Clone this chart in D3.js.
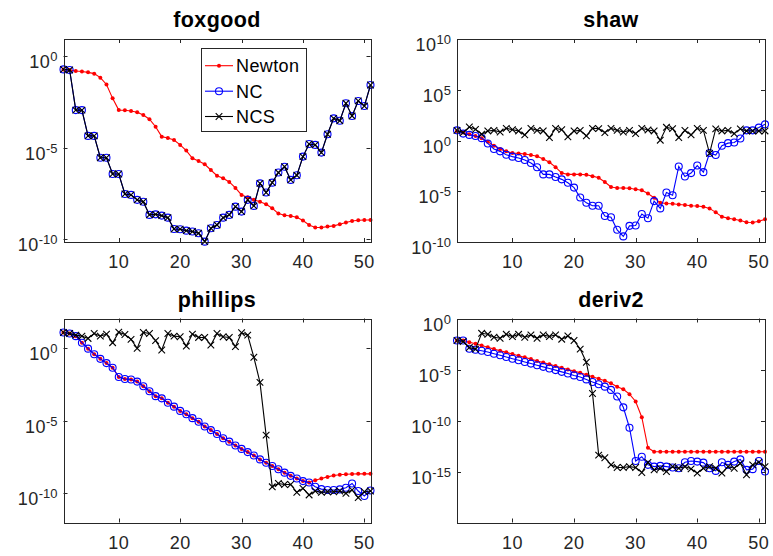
<!DOCTYPE html>
<html>
<head>
<meta charset="utf-8">
<script src="https://cdn.jsdelivr.net/npm/d3@7/dist/d3.min.js"></script>
<style>
  body { margin: 0; background: #fff; }
  svg { display: block; }
</style>
</head>
<body>
<script>
// iteration index on the x axis
const iterations = d3.range(1, 52);
const xTicks = [10, 20, 30, 40, 50];

// all series are log10 of the plotted values
const foxgoodNewton = [-0.73, -0.76, -0.82, -0.84, -0.89, -0.96, -1.18, -1.55, -2.31, -2.95,
    -2.96, -3.0, -3.07, -3.22, -3.45, -3.86, -4.4, -4.47, -4.58, -4.85,
    -5.16, -5.58, -5.73, -5.91, -6.22, -6.53, -6.67, -6.87, -7.2, -7.58,
    -7.71, -7.85, -7.95, -8.09, -8.31, -8.6, -8.69, -8.73, -8.8, -8.98,
    -9.22, -9.36, -9.36, -9.31, -9.27, -9.18, -9.09, -9.0, -8.96, -8.95, -8.95];
const foxgoodNC = [-0.73, -0.76, -2.95, -2.95, -4.36, -4.36, -5.55, -5.55, -6.44, -6.44,
    -7.53, -7.58, -7.85, -7.95, -8.67, -8.64, -8.71, -8.82, -9.44, -9.45,
    -9.53, -9.58, -9.67, -10.13, -9.4, -9.22, -8.82, -8.67, -8.22, -8.49,
    -7.85, -8.18, -6.95, -7.45, -6.91, -6.36, -6.04, -6.76, -6.51, -5.49,
    -4.8, -4.85, -5.27, -4.27, -3.4, -3.53, -2.58, -3.27, -2.45, -2.73, -1.58];
const foxgoodNCS = [-0.73, -0.76, -2.95, -2.95, -4.36, -4.36, -5.55, -5.55, -6.44, -6.44,
    -7.53, -7.58, -7.85, -7.95, -8.67, -8.64, -8.71, -8.82, -9.44, -9.45,
    -9.53, -9.58, -9.67, -10.13, -9.4, -9.22, -8.82, -8.67, -8.22, -8.49,
    -7.85, -8.18, -6.95, -7.45, -6.91, -6.36, -6.04, -6.76, -6.51, -5.49,
    -4.8, -4.85, -5.27, -4.27, -3.4, -3.53, -2.58, -3.27, -2.45, -2.73, -1.58];

const shawNewton = [0.94, 0.78, 0.62, 0.45, 0.23, -0.13, -0.52, -0.84, -1.07, -1.23,
    -1.27, -1.33, -1.43, -1.56, -1.82, -2.14, -2.63, -3.21, -3.34, -3.34,
    -3.34, -3.38, -3.51, -3.67, -4.09, -4.58, -4.68, -4.68, -4.71, -4.81,
    -4.9, -5.23, -5.65, -6.14, -6.2, -6.23, -6.3, -6.36, -6.43, -6.46,
    -6.53, -6.69, -7.08, -7.5, -7.66, -7.76, -7.89, -8.05, -8.08, -7.95, -7.76];
const shawNC = [1.0, 0.68, 0.55, 0.45, 0.23, -0.29, -0.84, -1.07, -1.4, -1.59,
    -1.72, -1.92, -2.21, -2.63, -3.34, -3.34, -3.6, -3.83, -4.16, -4.64,
    -5.62, -6.14, -6.43, -6.43, -7.44, -7.56, -8.8, -9.45, -8.41, -8.38,
    -7.24, -7.66, -5.97, -6.69, -5.13, -5.39, -2.56, -3.54, -3.21, -2.47,
    -3.12, -1.23, -1.43, -0.52, -0.26, -0.19, 0.19, 1.0, 1.0, 1.27, 1.59];
const shawNCS = [1.0, 0.78, 1.33, 1.1, 0.62, 0.94, 1.0, 0.84, 1.2, 1.07,
    0.94, 0.55, 1.2, 1.0, 0.94, 0.29, 1.2, 1.07, 0.36, 0.94,
    1.0, 0.45, 1.2, 1.17, 0.78, 1.2, 1.0, 0.84, 1.0, 0.68,
    1.2, 1.04, 0.94, 0.03, 1.3, 1.17, 0.29, 1.0, 0.55, 1.2,
    1.0, -1.27, 1.14, 0.94, 1.0, 0.68, 1.14, 0.94, 0.94, 0.94, 0.94];

const phillipsNewton = [1.04, 0.97, 0.79, 0.34, -0.07, -0.45, -0.77, -1.06, -1.38, -2.01,
    -2.15, -2.19, -2.33, -2.65, -2.99, -3.33, -3.48, -3.78, -4.05, -4.34,
    -4.57, -4.84, -5.09, -5.41, -5.66, -5.93, -6.22, -6.45, -6.72, -6.95,
    -7.17, -7.4, -7.67, -7.9, -8.12, -8.35, -8.58, -8.8, -8.98, -9.16,
    -9.25, -9.1, -8.98, -8.87, -8.78, -8.72, -8.69, -8.67, -8.66, -8.66, -8.66];
const phillipsNC = [1.04, 0.97, 0.79, 0.34, -0.07, -0.45, -0.77, -1.06, -1.38, -2.01,
    -2.15, -2.19, -2.33, -2.65, -2.99, -3.33, -3.48, -3.78, -4.05, -4.34,
    -4.57, -4.84, -5.09, -5.41, -5.66, -5.93, -6.22, -6.45, -6.72, -6.95,
    -7.17, -7.4, -7.67, -7.9, -8.12, -8.35, -8.58, -8.8, -8.98, -9.16,
    -9.25, -9.55, -9.71, -9.77, -9.77, -9.73, -9.62, -9.32, -9.84, -10.18, -9.8];
const phillipsNCS = [1.04, 0.97, 0.86, 0.79, 0.63, 0.97, 0.79, 0.93, 0.34, 1.06,
    0.9, 0.57, -0.05, 1.04, 0.97, 0.48, -0.16, 0.97, 0.79, 0.75,
    0.11, 0.93, 0.7, 0.7, 0.18, 0.97, 0.75, 0.7, 0.07, 1.02,
    0.86, -0.66, -2.38, -6.0, -9.55, -9.32, -9.39, -9.39, -9.93, -9.66,
    -10.11, -9.84, -9.93, -9.89, -9.89, -9.84, -10.0, -9.77, -10.29, -9.89, -9.84];

const deriv2Newton = [-2.16, -2.16, -2.32, -2.48, -2.65, -2.81, -3.0, -3.16, -3.32, -3.48,
    -3.65, -3.81, -3.97, -4.16, -4.32, -4.48, -4.65, -4.84, -5.0, -5.16,
    -5.32, -5.52, -5.71, -5.9, -6.1, -6.35, -6.68, -6.94, -7.42, -8.13,
    -9.68, -12.68, -13.06, -13.06, -13.06, -13.06, -13.06, -13.06, -13.06, -13.06,
    -13.06, -13.06, -13.06, -13.06, -13.06, -13.06, -13.06, -13.06, -13.06, -13.06, -13.06];
const deriv2NC = [-2.16, -2.16, -2.97, -3.06, -3.16, -3.29, -3.45, -3.61, -3.77, -3.94,
    -4.1, -4.26, -4.42, -4.58, -4.74, -4.9, -5.06, -5.23, -5.39, -5.58,
    -5.74, -5.97, -6.23, -6.45, -6.68, -7.0, -7.65, -8.71, -10.71, -13.97,
    -13.55, -14.35, -14.52, -14.45, -14.52, -14.61, -14.68, -14.1, -13.97, -14.03,
    -14.13, -14.68, -14.94, -14.1, -14.35, -14.03, -13.81, -14.84, -14.77, -13.97, -15.0];
const deriv2NCS = [-2.16, -2.26, -2.84, -3.0, -1.45, -1.55, -1.84, -1.94, -1.55, -1.77,
    -1.55, -1.84, -1.61, -1.94, -1.61, -1.77, -1.61, -2.03, -1.71, -2.16,
    -3.0, -4.29, -7.35, -13.39, -13.65, -14.35, -14.61, -14.61, -14.52, -14.61,
    -15.1, -14.1, -14.84, -14.68, -15.0, -14.52, -14.68, -14.52, -14.74, -15.16,
    -14.68, -14.52, -14.68, -15.16, -14.52, -14.68, -14.19, -15.32, -14.35, -14.1, -14.52];

const seriesNames = ['Newton', 'NC', 'NCS'];
const seriesColors = ['#ff0000', '#0000ff', '#000000'];

// y limits and ticks, as powers of ten
const foxgoodYLim = [-10.15, 0.93], foxgoodYTicks = [0, -5, -10];
const shawYLim = [-10, 10], shawYTicks = [10, 5, 0, -5, -10];
const phillipsYLim = [-12, 2], phillipsYTicks = [0, -5, -10];
const deriv2YLim = [-20, 0], deriv2YTicks = [0, -5, -10, -15];

const W = 773, H = 556;
const FONT = '"Liberation Sans", Arial, Helvetica, sans-serif';
const AXIS_COLOR = '#262626';

const panels = [
    { title: 'foxgood', series: [foxgoodNewton, foxgoodNC, foxgoodNCS], yLim: foxgoodYLim, yTicks: foxgoodYTicks,
      left: 63.5, top: 39, width: 307, height: 203, legend: true },
    { title: 'shaw', series: [shawNewton, shawNC, shawNCS], yLim: shawYLim, yTicks: shawYTicks,
      left: 457, top: 39, width: 308, height: 203 },
    { title: 'phillips', series: [phillipsNewton, phillipsNC, phillipsNCS], yLim: phillipsYLim, yTicks: phillipsYTicks,
      left: 63.5, top: 318.5, width: 307, height: 204 },
    { title: 'deriv2', series: [deriv2Newton, deriv2NC, deriv2NCS], yLim: deriv2YLim, yTicks: deriv2YTicks,
      left: 457, top: 318.5, width: 308, height: 204 }
];

const svg = d3.select('body')
    .append('svg')
    .attr('width', W)
    .attr('height', H)
    .style('font-family', FONT);

svg.append('rect')
    .attr('width', W)
    .attr('height', H)
    .attr('fill', '#fff');

// marker drawers: '.' for Newton, 'o' for NC, 'x' for NCS
function drawMarkers(sel, kind, color) {
    if (kind === 0) {
        sel.append('circle').attr('r', 2).attr('fill', color);
    } else if (kind === 1) {
        sel.append('circle').attr('r', 3.5).attr('fill', 'none')
            .attr('stroke', color).attr('stroke-width', 1.1);
    } else {
        sel.append('path').attr('d', 'M-3.3,-3.3L3.3,3.3M-3.3,3.3L3.3,-3.3')
            .attr('fill', 'none').attr('stroke', color).attr('stroke-width', 1.1);
    }
}

function drawPanel(p) {
    const x = d3.scaleLinear().domain([1, 51]).range([p.left, p.left + p.width]);
    const y = d3.scaleLog()
        .domain([Math.pow(10, p.yLim[0]), Math.pow(10, p.yLim[1])])
        .range([p.top + p.height, p.top]);

    const g = svg.append('g').attr('class', 'panel');
    const bottom = p.top + p.height, right = p.left + p.width;
    const tickLen = 4;

    // ticks on all four sides (MATLAB box style, pointing inward)
    const ticks = g.append('g').attr('stroke', AXIS_COLOR).attr('stroke-width', 1);
    xTicks.forEach(t => {
        const xp = Math.round(x(t)) + 0.5;
        ticks.append('line').attr('x1', xp).attr('x2', xp).attr('y1', bottom).attr('y2', bottom - tickLen);
        ticks.append('line').attr('x1', xp).attr('x2', xp).attr('y1', p.top).attr('y2', p.top + tickLen);
    });
    p.yTicks.forEach(e => {
        const yp = Math.round(y(Math.pow(10, e))) + 0.5;
        ticks.append('line').attr('x1', p.left).attr('x2', p.left + tickLen).attr('y1', yp).attr('y2', yp);
        ticks.append('line').attr('x1', right).attr('x2', right - tickLen).attr('y1', yp).attr('y2', yp);
    });

    // x tick labels
    g.append('g').selectAll('text')
        .data(xTicks)
        .join('text')
        .attr('x', d => x(d))
        .attr('y', bottom + 26)
        .attr('text-anchor', 'middle')
        .attr('font-size', 18)
        .attr('letter-spacing', 0.5)
        .attr('fill', AXIS_COLOR)
        .text(d => d);

    // y tick labels, 10 with a superscript exponent
    const yl = g.append('g').selectAll('text')
        .data(p.yTicks)
        .join('text')
        .attr('x', p.left - 6)
        .attr('y', d => y(Math.pow(10, d)) + 12)
        .attr('text-anchor', 'end')
        .attr('fill', AXIS_COLOR);
    yl.append('tspan').attr('font-size', 18).attr('letter-spacing', 0.5).text('10');
    yl.append('tspan').attr('font-size', 13).attr('dy', -7).text(d => String(d));

    // title
    g.append('text')
        .attr('x', p.left + p.width / 2)
        .attr('y', p.top - 12)
        .attr('text-anchor', 'middle')
        .attr('font-size', 21.5)
        .attr('font-weight', 'bold')
        .attr('letter-spacing', 0.4)
        .attr('fill', '#000')
        .text(p.title);

    // series: lines then markers
    p.series.forEach((vals, k) => {
        const pts = iterations.map((it, i) => ({ it: it, v: Math.pow(10, vals[i]) }));
        const line = d3.line().x(d => x(d.it)).y(d => y(d.v));
        g.append('path')
            .datum(pts)
            .attr('d', line)
            .attr('fill', 'none')
            .attr('stroke', seriesColors[k])
            .attr('stroke-width', 1.1);
        const m = g.append('g').selectAll('g')
            .data(pts)
            .join('g')
            .attr('transform', d => `translate(${x(d.it)},${y(d.v)})`);
        drawMarkers(m, k, seriesColors[k]);
    });

    // axes box
    g.append('rect')
        .attr('x', Math.round(p.left) + 0.5)
        .attr('y', Math.round(p.top) + 0.5)
        .attr('width', Math.round(p.width))
        .attr('height', Math.round(p.height))
        .attr('fill', 'none')
        .attr('stroke', AXIS_COLOR)
        .attr('stroke-width', 1);

    if (p.legend) drawLegend(g);
}

function drawLegend(g) {
    const lg = g.append('g').attr('class', 'legend');
    lg.append('rect')
        .attr('x', 201.5).attr('y', 48.5)
        .attr('width', 105).attr('height', 83)
        .attr('fill', '#fff')
        .attr('stroke', AXIS_COLOR)
        .attr('stroke-width', 1);
    const rows = [65.7, 91.2, 116.5];
    seriesNames.forEach((name, k) => {
        const ry = rows[k];
        lg.append('line')
            .attr('x1', 205).attr('x2', 233)
            .attr('y1', ry).attr('y2', ry)
            .attr('stroke', seriesColors[k])
            .attr('stroke-width', 1.1);
        const m = lg.append('g').attr('transform', `translate(219,${ry})`);
        drawMarkers(m, k, seriesColors[k]);
        lg.append('text')
            .attr('x', 236)
            .attr('y', ry + 6.5)
            .attr('font-size', 18)
            .attr('letter-spacing', 0.4)
            .attr('fill', '#000')
            .text(name);
    });
}

panels.forEach(drawPanel);
</script>
</body>
</html>
